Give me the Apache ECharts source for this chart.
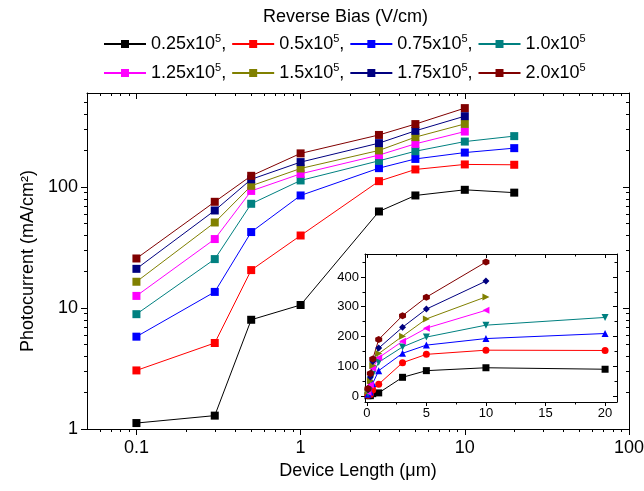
<!DOCTYPE html>
<html lang="en">
<head>
<meta charset="UTF-8">
<title>Photocurrent vs device length</title>
<script src="https://cdn.jsdelivr.net/npm/echarts@6/dist/echarts.min.js"></script>
<style>
  html, body { margin: 0; padding: 0; background: #fff; }
  #main { width: 644px; height: 491px; }
</style>
</head>
<body>
<div id="main"></div>
<script>
// device lengths (um), shared by every bias
var lengths = [0.1, 0.3, 0.5, 1, 3, 5, 10, 20];

// photocurrent (mA/cm2) for each reverse bias
var bias025 = [1.12, 1.29, 8.0, 10.6, 62.9, 85.3, 95, 90];
var bias050 = [3.05, 5.14, 20.6, 39.8, 112, 140, 154, 153];
var bias075 = [5.8, 13.6, 42.5, 85.3, 143.5, 171, 193, 210];
var bias100 = [8.9, 25.4, 72.8, 113.5, 165, 198, 238, 264];
var bias125 = [12.6, 37.2, 93, 128.8, 184, 228, 288];
var bias150 = [16.5, 51, 102.5, 142.6, 201, 259, 333];
var bias175 = [21.1, 64.1, 116, 161, 231, 292, 386];
var bias200 = [25.7, 75.6, 124, 190, 270, 332, 450];

var biasNames = ['0.25', '0.5', '0.75', '1.0', '1.25', '1.5', '1.75', '2.0'];
var biasValues = [bias025, bias050, bias075, bias100, bias125, bias150, bias175, bias200];
var colors = ['#000000', '#ff0000', '#0000ff', '#008080', '#ff00ff', '#808000', '#000080', '#800000'];

// inset markers
var hexagon = 'path://M0,-10 L8.66,-5 L8.66,5 L0,10 L-8.66,5 L-8.66,-5 Z';
var insetSymbols = ['rect', 'circle', 'triangle', 'triangle', 'triangle', 'triangle', 'diamond', hexagon];
var insetRotate = [0, 0, 0, 180, 90, -90, 0, 0];

// tick values
var mainXMajor = [0.1, 1, 10, 100];
var mainXMinor = [0.06, 0.07, 0.08, 0.09, 0.2, 0.3, 0.4, 0.5, 0.6, 0.7, 0.8, 0.9,
                  2, 3, 4, 5, 6, 7, 8, 9, 20, 30, 40, 50, 60, 70, 80, 90];
var mainYMajor = [1, 10, 100];
var mainYMinor = [2, 3, 4, 5, 6, 7, 8, 9, 20, 30, 40, 50, 60, 70, 80, 90, 200, 300, 400, 500];
var insetXMajor = [0, 5, 10, 15, 20];
var insetXMinor = [2.5, 7.5, 12.5, 17.5];
var insetYMajor = [0, 100, 200, 300, 400];
var insetYMinor = [50, 150, 250, 350, 450];

var font = 'Liberation Sans, Arial, sans-serif';

function axis(type, grid, pos, min, max, ticks, len, inside, line, labels, labelSize, margin) {
    var a = {
        type: type,
        gridIndex: grid,
        position: pos,
        min: min,
        max: max,
        axisLine: { show: line, onZero: false, lineStyle: { color: '#000', width: 1 } },
        axisTick: { show: true, inside: inside, length: len, customValues: ticks,
                    lineStyle: { color: '#000', width: 1 } },
        axisLabel: { show: false },
        splitLine: { show: false },
        minorTick: { show: false },
        silent: true
    };
    if (type === 'log') a.logBase = 10;
    if (labels) {
        a.axisLabel = {
            show: true, customValues: labels, margin: margin,
            color: '#000', fontSize: labelSize, fontFamily: font,
            formatter: function (v) { return String(v); }
        };
    }
    return a;
}

var xAxes = [
    axis('log', 0, 'bottom', 0.05, 100, mainXMajor, 6, false, true, mainXMajor, 18, 10),
    axis('log', 0, 'bottom', 0.05, 100, mainXMinor, 3, false, false),
    axis('log', 0, 'top', 0.05, 100, mainXMajor, 6, true, true),
    axis('log', 0, 'top', 0.05, 100, mainXMinor, 3, true, false),
    axis('value', 1, 'bottom', -0.15, 21, insetXMajor, 4, false, true, insetXMajor, 13, 5),
    axis('value', 1, 'bottom', -0.15, 21, insetXMinor, 2.5, false, false),
    axis('value', 1, 'top', -0.15, 21, insetXMajor, 4, true, true),
    axis('value', 1, 'top', -0.15, 21, insetXMinor, 2.5, true, false)
];
var yAxes = [
    axis('log', 0, 'left', 1, 600, mainYMajor, 6, false, true, mainYMajor, 18, 9),
    axis('log', 0, 'left', 1, 600, mainYMinor, 3, false, false),
    axis('log', 0, 'right', 1, 600, mainYMajor, 6, true, true),
    axis('log', 0, 'right', 1, 600, mainYMinor, 3, true, false),
    axis('value', 1, 'left', -20, 477, insetYMajor, 4, false, true, insetYMajor, 13, 6),
    axis('value', 1, 'left', -20, 477, insetYMinor, 2.5, false, false),
    axis('value', 1, 'right', -20, 477, insetYMajor, 4, true, true),
    axis('value', 1, 'right', -20, 477, insetYMinor, 2.5, true, false)
];

xAxes[0].name = 'Device Length (\u03bcm)';
xAxes[0].nameLocation = 'middle';
xAxes[0].nameGap = 26;
xAxes[0].nameTextStyle = { color: '#000', fontSize: 18, fontFamily: font };
yAxes[0].name = 'Photocurrent (mA/cm\u00b2)';
yAxes[0].nameLocation = 'middle';
yAxes[0].nameRotate = 90;
yAxes[0].nameGap = 48;
yAxes[0].nameTextStyle = { color: '#000', fontSize: 18, fontFamily: font };

var series = [];
biasNames.forEach(function (name, k) {
    var main = [], inset = [];
    biasValues[k].forEach(function (v, i) {
        main.push([lengths[i], v]);
        inset.push([lengths[i], v]);
    });
    series.push({
        name: name, type: 'line', xAxisIndex: 0, yAxisIndex: 0,
        data: main, symbol: 'rect', symbolSize: 8, showAllSymbol: true,
        lineStyle: { color: colors[k], width: 1 },
        itemStyle: { color: colors[k] }
    });
    series.push({
        name: name, type: 'line', xAxisIndex: 4, yAxisIndex: 4,
        data: inset, symbol: insetSymbols[k], symbolRotate: insetRotate[k],
        symbolSize: 7, showAllSymbol: true,
        lineStyle: { color: colors[k], width: 1 },
        itemStyle: { color: colors[k] }
    });
});

function legendRow(names, top) {
    return {
        data: names, top: top, left: 98, orient: 'horizontal',
        itemWidth: 42, itemHeight: 10, itemGap: 5, selectedMode: false,
        formatter: function (name) {
            var last = (name === '1.0' || name === '2.0');
            return '{a|' + name + 'x10}{s|5}' + (last ? '' : '{a|,}');
        },
        textStyle: {
            color: '#000', fontFamily: font,
            rich: {
                a: { fontSize: 18, lineHeight: 22, color: '#000', fontFamily: font },
                s: { fontSize: 11, lineHeight: 22, verticalAlign: 'top', color: '#000', fontFamily: font }
            }
        }
    };
}

var chart = echarts.init(document.getElementById('main'), null, { renderer: 'canvas' });
chart.setOption({
    animation: false,
    backgroundColor: '#fff',
    title: {
        text: 'Reverse Bias (V/cm)', left: 258, top: 3,
        textStyle: { color: '#000', fontSize: 18, fontWeight: 'normal', fontFamily: font }
    },
    legend: [legendRow(biasNames.slice(0, 4), 28), legendRow(biasNames.slice(4), 57)],
    grid: [
        { left: 87, right: 15, top: 93, bottom: 62, outerBoundsMode: 'none' },
        { left: 365, right: 27, top: 254, bottom: 89, show: true, borderWidth: 0,
          backgroundColor: '#fff', outerBoundsMode: 'none' }
    ],
    xAxis: xAxes,
    yAxis: yAxes,
    series: series
});
</script>
</body>
</html>
